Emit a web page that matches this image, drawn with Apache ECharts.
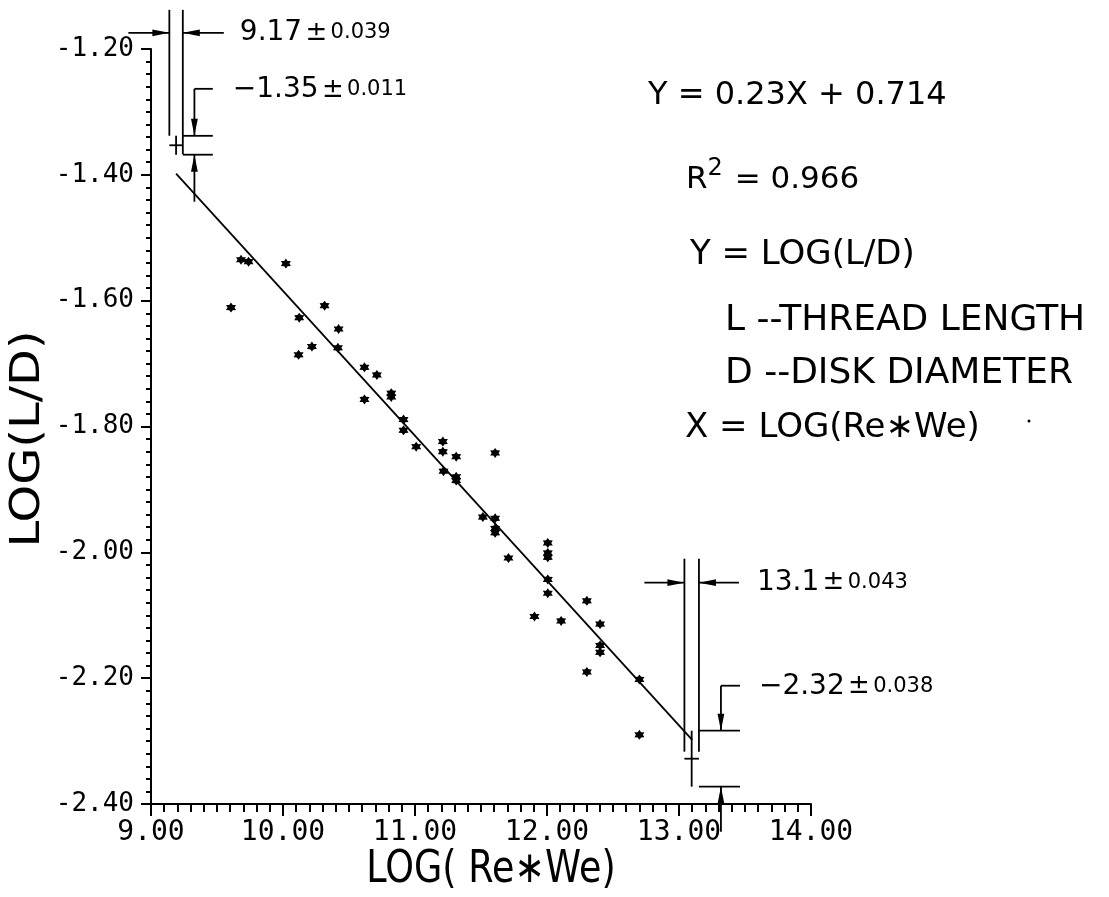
<!DOCTYPE html>
<html>
<head>
<meta charset="utf-8">
<script src="https://cdn.jsdelivr.net/npm/echarts@6/dist/echarts.min.js"></script>
<style>html,body{margin:0;padding:0;background:#fff}#c{width:1109px;height:897px}</style>
</head>
<body>
<div id="c"></div>
<script>
// ---------- data ----------
const xTickLabels = ['9.00', '10.00', '11.00', '12.00', '13.00', '14.00'];
const yTickLabels = ['-2.40', '-2.20', '-2.00', '-1.80', '-1.60', '-1.40', '-1.20'];

const scatterX = [9.606, 9.682, 9.739, 10.022, 10.123, 10.118, 10.219, 10.315, 10.421, 10.416,
  10.617, 10.617, 10.711, 10.820, 10.820, 10.913, 10.913, 11.009, 11.211, 11.211,
  11.312, 11.216, 11.312, 11.312, 11.607, 11.514, 11.607, 11.607, 11.607, 11.708,
  12.006, 12.006, 12.006, 12.006, 12.006, 11.905, 12.107, 12.302, 12.402, 12.402,
  12.402, 12.302, 12.700, 12.700];
const scatterY = [-1.611, -1.535, -1.538, -1.541, -1.627, -1.686, -1.673, -1.608, -1.645, -1.675,
  -1.706, -1.757, -1.718, -1.747, -1.753, -1.789, -1.806, -1.832, -1.824, -1.840,
  -1.848, -1.871, -1.880, -1.886, -1.842, -1.944, -1.946, -1.962, -1.969, -2.009,
  -1.985, -2.001, -2.008, -2.043, -2.065, -2.102, -2.109, -2.077, -2.114, -2.148,
  -2.159, -2.190, -2.202, -2.290];

const fitX = [9.19, 13.10];
const fitY = [-1.398, -2.298];

// estimated end points with their uncertainty
const estX = [9.19, 13.096];
const estY = [-1.353, -2.328];
const estXErr = [0.051, 0.055];
const estYErr = [0.015, 0.0445];
const estXText = ['9.17', '13.1'];
const estXPm = ['0.039', '0.043'];
const estYText = ['\u22121.35', '\u22122.32'];
const estYPm = ['0.011', '0.038'];

const noteLines = ['Y = 0.23X + 0.714', 'R', '2', ' = 0.966', 'Y = LOG(L/D)',
  'L --THREAD LENGTH', 'D --DISK DIAMETER', 'X = LOG(Re\u2217We)'];
const xTitle = 'LOG( Re\u2217We)';
const yTitle = 'LOG(L/D)';

// ---------- layout / style ----------
const annLayout = [
  {extTop: 126, lEnd: -9.5, rEnd: 9, hArrowUp: 103, hArrowLen: 41, vArrowDx: 11.6, vArrowLen: 47, tickLen: 30, xTextDx: 57, yTextDx: 50, yTextUp: 46},
  {extTop: 172, lEnd: -7, rEnd: -7, hArrowUp: 148, hArrowLen: 40, vArrowDx: 22, vArrowLen: 45, tickLen: 41, xTextDx: 58, yTextDx: 60, yTextUp: 44}
];
const INK = '#000';
const SANS = '"DejaVu Sans", sans-serif';
const MONO = '"DejaVu Sans Mono", monospace';
const starPath = 'path://M10 0L13 4.8L18.66 5L16 10L18.66 15L13 15.2L10 20L7 15.2L1.34 15L4 10L1.34 5L7 4.8Z';

const scatterData = scatterX.map((x, i) => [x, scatterY[i]]);
const fitData = fitX.map((x, i) => [x, fitY[i]]);
const estData = estX.map((x, i) => [x, estY[i], estXErr[i], estYErr[i], i]);

function renderAnn(params, api) {
  const i = api.value(4);
  const L = annLayout[i];
  const x = api.value(0), y = api.value(1), ex = api.value(2), ey = api.value(3);
  const c = api.coord([x, y]);
  const cx = c[0], cy = c[1];
  const pL = api.coord([x - ex, y])[0], pR = api.coord([x + ex, y])[0];
  const yT = api.coord([x, y + ey])[1], yB = api.coord([x, y - ey])[1];
  const ln = (x1, y1, x2, y2) => ({type: 'line', shape: {x1, y1, x2, y2}, style: {stroke: INK, lineWidth: 1.8}});
  const head = (tx, ty, dx, dy) => {
    const len = 17, w = 3.4;
    const bx = tx - dx * len, by = ty - dy * len;
    const nx = -dy, ny = dx;
    return {type: 'polygon', shape: {points: [[tx, ty], [bx + nx * w, by + ny * w], [bx - nx * w, by - ny * w]]}, style: {fill: INK}};
  };
  const top = yT - L.extTop;
  const ay = yT - L.hArrowUp;
  const vx = pR + L.vArrowDx;
  const rich = {
    a: {fontSize: 28, fontFamily: SANS, fill: INK},
    p: {fontSize: 26, fontFamily: SANS, fill: INK},
    b: {fontSize: 21, fontFamily: SANS, fill: INK}
  };
  return {
    type: 'group',
    children: [
      ln(pL, top, pL, cy + L.lEnd),
      ln(pR, top, pR, cy + L.rEnd),
      ln(pL, cy, pR, cy),
      ln(cx, yT, cx, yB),
      ln(pL - L.hArrowLen, ay, pL, ay), head(pL, ay, 1, 0),
      ln(pR + L.hArrowLen, ay, pR, ay), head(pR, ay, -1, 0),
      ln(pR, yT, pR + L.tickLen, yT),
      ln(pR, yB, pR + L.tickLen, yB),
      ln(vx, yT - L.vArrowLen, vx, yT), head(vx, yT, 0, 1),
      ln(vx, yT - L.vArrowLen, pR + L.tickLen, yT - L.vArrowLen),
      ln(vx, yB + L.vArrowLen, vx, yB), head(vx, yB, 0, -1),
      {type: 'text', x: pR + L.xTextDx, y: ay, style: {
        text: '{a|' + estXText[i] + '} {p|\u00b1} {b|' + estXPm[i] + '}', rich,
        align: 'left', verticalAlign: 'middle', fill: INK}},
      {type: 'text', x: pR + L.yTextDx, y: yT - L.yTextUp, style: {
        text: '{a|' + estYText[i] + '} {p|\u00b1} {b|' + estYPm[i] + '}', rich,
        align: 'left', verticalAlign: 'middle', fill: INK}}
    ]
  };
}

const chart = echarts.init(document.getElementById('c'), null, {renderer: 'canvas'});
const note = (text, x, y, fs) => ({type: 'text', x, y, style: {text, font: fs + 'px ' + SANS, fill: INK, align: 'left', verticalAlign: 'middle'}});

chart.setOption({
  backgroundColor: '#fff',
  animation: false,
  grid: {left: 151, right: 298, top: 49, bottom: 93, containLabel: false, outerBoundsMode: 'none'},
  xAxis: {
    type: 'value', min: 9, max: 14, interval: 1,
    axisLine: {show: true, onZero: false, lineStyle: {color: INK, width: 2}},
    axisTick: {show: true, length: 12, lineStyle: {color: INK, width: 2}},
    minorTick: {show: true, splitNumber: 10, length: 8, lineStyle: {color: INK, width: 2}},
    splitLine: {show: false},
    axisLabel: {margin: 15, color: INK, fontFamily: MONO, fontSize: 28,
      formatter: v => xTickLabels[Math.round(v - 9)]}
  },
  yAxis: {
    type: 'value', min: -2.4, max: -1.2, interval: 0.2,
    axisLine: {show: true, onZero: false, lineStyle: {color: INK, width: 2}},
    axisTick: {show: true, length: 10, lineStyle: {color: INK, width: 2}},
    minorTick: {show: true, splitNumber: 10, length: 5, lineStyle: {color: INK, width: 2}},
    splitLine: {show: false},
    axisLabel: {margin: 17, color: INK, fontFamily: MONO, fontSize: 26,
      formatter: v => yTickLabels[Math.round((v + 2.4) / 0.2)]}
  },
  graphic: [
    {type: 'text', x: 491, y: 871, scaleX: 0.83, style: {text: xTitle, font: '44px ' + SANS, fill: INK, align: 'center', verticalAlign: 'middle'}},
    {type: 'text', x: 28, y: 439, rotation: Math.PI / 2, scaleX: 1.17, style: {text: yTitle, font: '41px ' + SANS, fill: INK, align: 'center', verticalAlign: 'middle'}},
    note(noteLines[0], 648, 96, 32),
    {type: 'text', x: 686, y: 176, style: {
      text: '{r|' + noteLines[1] + '}{s|' + noteLines[2] + '}{r|' + noteLines[3] + '}',
      rich: {r: {fontSize: 31, fontFamily: SANS, fill: INK, verticalAlign: 'bottom'},
             s: {fontSize: 24, fontFamily: SANS, fill: INK, verticalAlign: 'top', padding: [0, 2, 14, 0]}},
      align: 'left', verticalAlign: 'middle', fill: INK}},
    note(noteLines[4], 690, 255, 34),
    note(noteLines[5], 725, 321, 36),
    note(noteLines[6], 725, 374, 36),
    note(noteLines[7], 685, 428, 34),
    {type: 'circle', shape: {cx: 1029, cy: 421, r: 1.5}, style: {fill: INK}}
  ],
  series: [
    {type: 'custom', renderItem: renderAnn, data: estData, clip: false, silent: true, z: 3},
    {type: 'line', data: fitData, showSymbol: false, symbol: 'none', lineStyle: {color: INK, width: 1.8}, silent: true, z: 4},
    {type: 'scatter', data: scatterData, symbol: starPath, symbolSize: 10, itemStyle: {color: INK, opacity: 1}, silent: true, z: 5}
  ]
});
</script>
</body>
</html>
